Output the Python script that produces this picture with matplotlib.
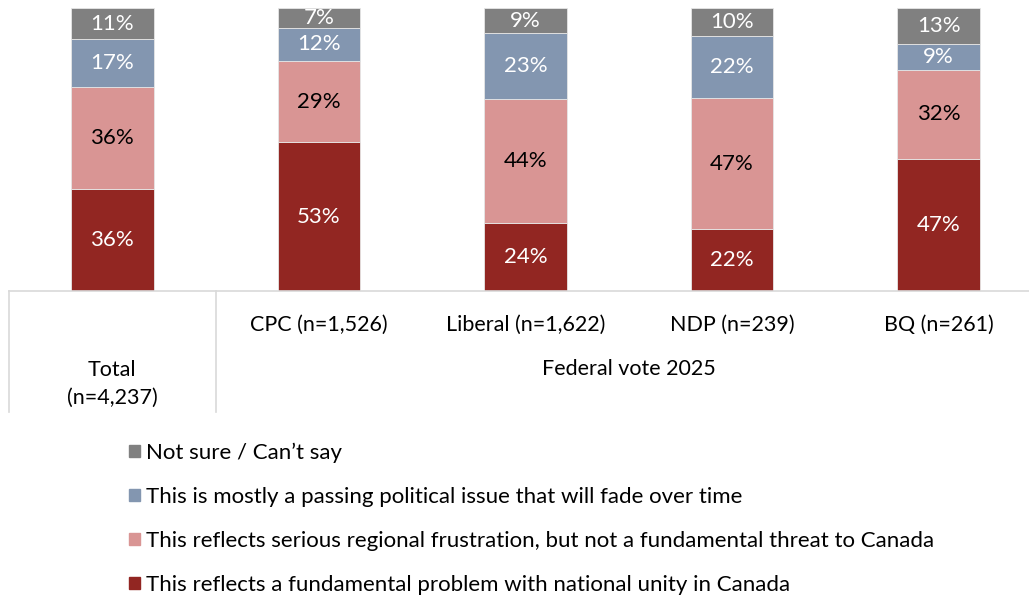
import matplotlib.pyplot as plt
import matplotlib.transforms as mtransforms
from matplotlib.patches import Patch
import numpy as np

plt.rcParams['font.family'] = ['Lato', 'DejaVu Sans']

groups = ['Total\n(n=4,237)', 'CPC (n=1,526)', 'Liberal (n=1,622)', 'NDP (n=239)', 'BQ (n=261)']
group_title = 'Federal vote 2025'

series = [
    'This reflects a fundamental problem with national unity in Canada',
    'This reflects serious regional frustration, but not a fundamental threat to Canada',
    'This is mostly a passing political issue that will fade over time',
    'Not sure / Can\u2019t say',
]
fundamental = [36, 53, 24, 22, 47]
regional = [36, 29, 44, 47, 32]
passing = [17, 12, 23, 22, 9]
not_sure = [11, 7, 9, 10, 13]

colors = ['#922622', '#d99594', '#8396b0', '#808080']
label_colors = ['white', 'black', 'white', 'white']

values = np.array([fundamental, regional, passing, not_sure], dtype=float)
# 100% stacked: each column scaled to its own total
shares = values / values.sum(axis=0) * 100

fig = plt.figure(figsize=(10.29, 5.96), dpi=100)
ax = fig.add_axes([9 / 1029, 1 - 291 / 596, 1033 / 1029, 283 / 596])

x = np.arange(len(groups))
bottom = np.zeros(len(groups))
for i in range(len(series)):
    bars = ax.bar(x, shares[i], 0.4, bottom=bottom, color=colors[i],
                  edgecolor='#e6e6e6', linewidth=0.6, label=series[i])
    for j, b in enumerate(bars):
        ax.text(b.get_x() + b.get_width() / 2, bottom[j] + shares[i][j] / 2,
                '%d%%' % values[i][j], ha='center', va='center',
                color=label_colors[i], fontsize=16)
    bottom += shares[i]

ax.set_xlim(-0.5, len(groups) - 0.5)
ax.set_ylim(0, 100)
ax.axis('off')

# category axis: baseline, dividers and multi-level labels
trans = mtransforms.blended_transform_factory(ax.transData, fig.transFigure)
y0 = 1 - 291 / 596
y1 = 1 - 412 / 596
ax.plot([-0.5, len(groups) - 0.5], [y0, y0], transform=trans, color='#d9d9d9',
        lw=1.2, clip_on=False)
for xv in [-0.5, 0.5]:
    ax.plot([xv, xv], [y0, y1], transform=trans, color='#d9d9d9', lw=1.2, clip_on=False)

ax.text(0, 1 - 384 / 596, groups[0], transform=trans, ha='center', va='center',
        fontsize=15.5, linespacing=1.5)
for j in range(1, len(groups)):
    ax.text(x[j], 1 - 325 / 596, groups[j], transform=trans, ha='center', va='center',
            fontsize=15.5)
ax.text(2.5, 1 - 369 / 596, group_title, transform=trans, ha='center', va='center',
        fontsize=15.5)

handles = [Patch(color=colors[i]) for i in range(len(series))][::-1]
fig.legend(handles, series[::-1], loc='upper left', bbox_to_anchor=(113 / 1029, 1 - 427 / 596),
           frameon=False, fontsize=16, handlelength=0.5, handleheight=0.5,
           handletextpad=0.3, labelspacing=1.08, borderpad=0.2)

fig.savefig('out.png', dpi=100)
